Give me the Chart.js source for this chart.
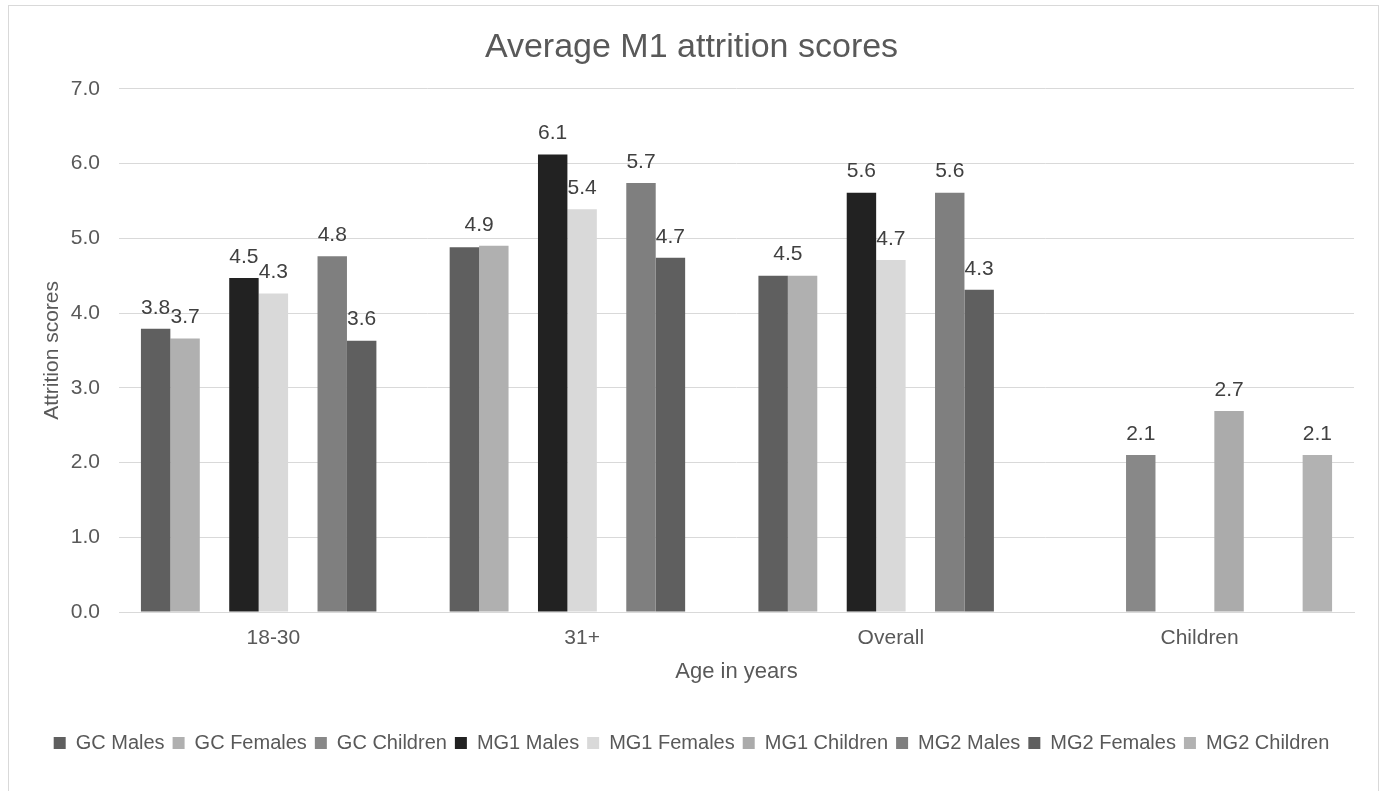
<!DOCTYPE html>
<html>
<head>
<meta charset="utf-8">
<title>Average M1 attrition scores</title>
<script src="https://cdn.jsdelivr.net/npm/chart.js@4.4.1/dist/chart.umd.min.js"></script>
<style>
    body { margin: 0; background: #ffffff; }
    #wrap { position: relative; width: 1383px; height: 791px; overflow: hidden; }
    #frame { position: absolute; left: 8px; top: 5px; width: 1369px; height: 820px; border: 1px solid #d9d9d9; pointer-events: none; }
    canvas { position: absolute; left: 0; top: 0; }
</style>
</head>
<body>
<div id="wrap">
    <canvas id="attritionChart" width="1383" height="791"></canvas>
    <div id="frame"></div>
</div>
<script>
const categories = ["18-30", "31+", "Overall", "Children"];

const gcMales     = [3.79, 4.88, 4.50, null];
const gcFemales   = [3.66, 4.90, 4.50, null];
const gcChildren  = [null, null, null, 2.10];
const mg1Males    = [4.47, 6.12, 5.61, null];
const mg1Females  = [4.26, 5.39, 4.71, null];
const mg1Children = [null, null, null, 2.69];
const mg2Males    = [4.76, 5.74, 5.61, null];
const mg2Females  = [3.63, 4.74, 4.31, null];
const mg2Children = [null, null, null, 2.10];

const seriesNames = ["GC Males", "GC Females", "GC Children", "MG1 Males", "MG1 Females",
    "MG1 Children", "MG2 Males", "MG2 Females", "MG2 Children"];
const seriesValues = [gcMales, gcFemales, gcChildren, mg1Males, mg1Females,
    mg1Children, mg2Males, mg2Females, mg2Children];
const seriesColors = ["#5f5f5f", "#b0b0b0", "#888888", "#222222", "#d9d9d9",
    "#ababab", "#7f7f7f", "#5f5f5f", "#b2b2b2"];

const yTicks = [0, 1, 2, 3, 4, 5, 6, 7];

const FONT = "'Liberation Sans', Arial, sans-serif";

// value labels above the bars; two neighbours showing the same value share one label
const barLabels = {
    id: "barLabels",
    afterDatasetsDraw(chart) {
        const ctx = chart.ctx;
        ctx.save();
        ctx.font = "21px " + FONT;
        ctx.fillStyle = "#404040";
        ctx.textAlign = "center";
        ctx.textBaseline = "middle";
        chart.data.datasets.forEach((ds, i) => {
            const meta = chart.getDatasetMeta(i);
            meta.data.forEach((bar, j) => {
                const v = ds.data[j];
                if (v === null) return;
                const txt = v.toFixed(1);
                const prev = i > 0 ? chart.data.datasets[i - 1].data[j] : null;
                if (prev !== null && prev.toFixed(1) === txt) return;
                let x = bar.x;
                let y = bar.y;
                const next = i < chart.data.datasets.length - 1 ? chart.data.datasets[i + 1].data[j] : null;
                if (next !== null && next.toFixed(1) === txt) {
                    const other = chart.getDatasetMeta(i + 1).data[j];
                    x = (bar.x + other.x) / 2;
                    y = Math.min(bar.y, other.y);
                }
                ctx.fillText(txt, x, y - 21);
            });
        });
        ctx.restore();
    }
};

const ctx = document.getElementById("attritionChart").getContext("2d");
new Chart(ctx, {
    type: "bar",
    data: {
        labels: categories,
        datasets: seriesNames.map((name, i) => ({
            label: name,
            data: seriesValues[i],
            backgroundColor: seriesColors[i],
            borderWidth: 0,
            categoryPercentage: 0.858,
            barPercentage: 1.0
        }))
    },
    options: {
        responsive: false,
        animation: false,
        layout: { padding: { left: 0, right: 0, top: 0, bottom: 28 } },
        plugins: {
            title: {
                display: true,
                text: "Average M1 attrition scores",
                color: "#595959",
                font: { family: FONT, size: 34, weight: "normal" },
                padding: { top: 27, bottom: 21 }
            },
            legend: {
                position: "bottom",
                labels: {
                    color: "#595959",
                    font: { family: FONT, size: 20 },
                    boxWidth: 12,
                    boxHeight: 12,
                    padding: 8
                }
            },
            tooltip: { enabled: false }
        },
        scales: {
            x: {
                afterFit: (scale) => { scale.height = 113; },
                grid: { display: false, drawTicks: false },
                border: { color: "#d9d9d9", width: 1 },
                ticks: { color: "#595959", font: { family: FONT, size: 21 }, padding: 14 },
                title: {
                    display: true,
                    text: "Age in years",
                    color: "#595959",
                    font: { family: FONT, size: 22 },
                    padding: { top: 8, bottom: 40 }
                }
            },
            y: {
                min: 0,
                max: 7,
                afterBuildTicks: (scale) => { scale.ticks = yTicks.map(v => ({ value: v })); },
                afterFit: (scale) => { scale.width = 119; },
                grid: { color: "#d9d9d9", lineWidth: 1, drawTicks: false },
                border: { display: false },
                ticks: {
                    color: "#595959",
                    font: { family: FONT, size: 21 },
                    padding: 19,
                    callback: (v) => Number(v).toFixed(1)
                },
                title: {
                    display: true,
                    text: "Attrition scores",
                    color: "#595959",
                    font: { family: FONT, size: 21 },
                    padding: { top: 40, bottom: 0 }
                }
            },
            // empty right-hand strip so the plot ends where the original does
            spacer: {
                type: "linear",
                position: "right",
                afterFit: (scale) => { scale.width = 29; },
                grid: { display: false, drawTicks: false },
                border: { display: false },
                ticks: { display: false }
            }
        }
    },
    plugins: [barLabels]
});
</script>
</body>
</html>
